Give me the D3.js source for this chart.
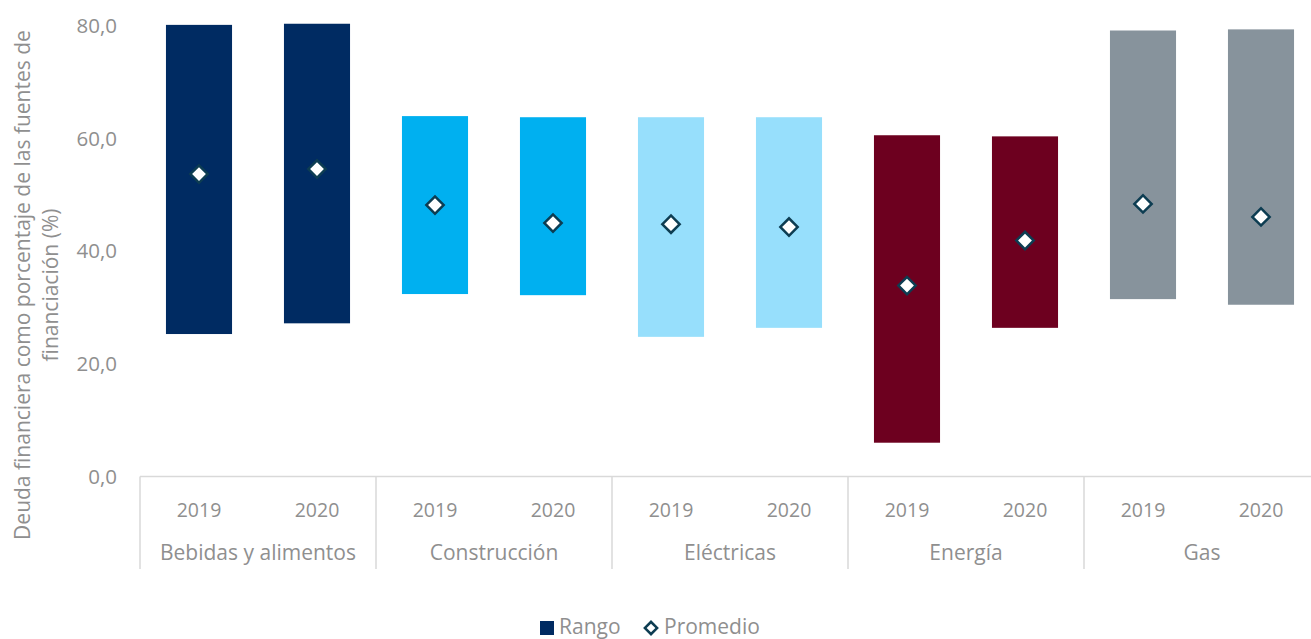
<!DOCTYPE html>
<html>
<head>
<meta charset="utf-8">
<script src="https://cdn.jsdelivr.net/npm/d3@7"></script>
<style>
  html, body { margin: 0; padding: 0; background: #fff; }
  svg { display: block; }
  text { font-family: "Open Sans", sans-serif; fill: #8f8f8f; }
</style>
</head>
<body>
<svg id="chart" width="1311" height="639"></svg>
<script>
// Sectors and years
const sectors = ["Bebidas y alimentos", "Construcción", "Eléctricas", "Energía", "Gas"];
const years = ["2019", "2020"];
// Range (min / max) and average, per sector, per year
const rangeMin = [[25.3, 27.2], [32.4, 32.2], [24.8, 26.4], [6.0, 26.4], [31.5, 30.5]];
const rangeMax = [[80.2, 80.4], [64.0, 63.8], [63.8, 63.8], [60.6, 60.4], [79.2, 79.4]];
const average  = [[53.7, 54.6], [48.2, 45.0], [44.8, 44.3], [33.9, 41.9], [48.4, 46.1]];
const sectorColors = ["#002b62", "#00b0f0", "#97dffc", "#6d001f", "#87939c"];
const yTicks = [0, 20, 40, 60, 80];
const yTitle = ["Deuda financiera como porcentaje de las fuentes de", "financiación (%)"];
const legendLabels = ["Rango", "Promedio"];

const svg = d3.select("#chart");
const plotLeft = 140, plotTop = 26, plotBottom = 476.5, groupW = 236;

const x = d3.scaleBand().domain(sectors).range([plotLeft, plotLeft + groupW * sectors.length]).padding(0);
const xi = d3.scaleBand().domain(years).range([0, x.bandwidth()]).paddingInner(0.44).paddingOuter(0.22);
const y = d3.scaleLinear().domain([0, 80]).range([plotBottom, plotTop]);

const fmt = v => d3.format(".1f")(v).replace(".", ",");

// y tick labels
svg.append("g").selectAll("text").data(yTicks).join("text")
  .attr("x", 117).attr("y", d => y(d)).attr("dy", "0.35em")
  .attr("text-anchor", "end").style("font-size", "20.5px")
  .text(fmt);

// y axis title (two lines, rotated)
svg.append("g").attr("transform", "translate(0,285) rotate(-90)")
  .selectAll("text").data(yTitle).join("text")
  .attr("x", 0).attr("y", (d, i) => 29.5 + i * 28)
  .attr("text-anchor", "middle").style("font-size", "21px").text(d => d);

// flatten records
const rows = [];
sectors.forEach((s, si) => years.forEach((yr, yi) => rows.push({
  sector: s, year: yr, lo: rangeMin[si][yi], hi: rangeMax[si][yi],
  avg: average[si][yi], color: sectorColors[si]
})));

// range bars
svg.append("g").selectAll("rect").data(rows).join("rect")
  .attr("x", d => x(d.sector) + xi(d.year))
  .attr("width", xi.bandwidth())
  .attr("y", d => y(d.hi))
  .attr("height", d => y(d.lo) - y(d.hi))
  .attr("fill", d => d.color);

// average markers
const diamond = d3.symbol().type(d3.symbolSquare).size(150);
svg.append("g").selectAll("path").data(rows).join("path")
  .attr("d", diamond)
  .attr("transform", d => `translate(${x(d.sector) + xi(d.year) + xi.bandwidth() / 2},${y(d.avg)}) rotate(45)`)
  .attr("fill", "#fff").attr("stroke", "#0d3d52").attr("stroke-width", 2.5);

// category axis: baseline and group separators
const axisG = svg.append("g");
axisG.append("line")
  .attr("x1", plotLeft).attr("x2", plotLeft + groupW * sectors.length)
  .attr("y1", plotBottom).attr("y2", plotBottom)
  .attr("stroke", "#d9d9d9").attr("stroke-width", 1.5);
axisG.selectAll("line.sep").data(sectors.concat([null])).join("line").attr("class", "sep")
  .attr("x1", (d, i) => plotLeft + i * groupW).attr("x2", (d, i) => plotLeft + i * groupW)
  .attr("y1", plotBottom).attr("y2", 569)
  .attr("stroke", "#d9d9d9").attr("stroke-width", 1.5);

// year labels
axisG.selectAll("text.yr").data(rows).join("text").attr("class", "yr")
  .attr("x", d => x(d.sector) + xi(d.year) + xi.bandwidth() / 2)
  .attr("y", 510).attr("dy", "0.35em").attr("text-anchor", "middle")
  .style("font-size", "19.5px").text(d => d.year);

// sector labels
axisG.selectAll("text.sec").data(sectors).join("text").attr("class", "sec")
  .attr("x", d => x(d) + x.bandwidth() / 2)
  .attr("y", 553).attr("dy", "0.35em").attr("text-anchor", "middle")
  .style("font-size", "21px").text(d => d);

// legend
const lg = svg.append("g").attr("transform", "translate(540,627)");
lg.append("rect").attr("x", 0).attr("y", -6).attr("width", 14).attr("height", 14).attr("fill", sectorColors[0]);
lg.append("text").attr("x", 19).attr("y", 0).attr("dy", "0.35em").style("font-size", "21px").text(legendLabels[0]);
lg.append("path").attr("d", d3.symbol().type(d3.symbolSquare).size(75))
  .attr("transform", "translate(111,1) rotate(45)")
  .attr("fill", "#fff").attr("stroke", "#0d3d52").attr("stroke-width", 2.5);
lg.append("text").attr("x", 124).attr("y", 0).attr("dy", "0.35em").style("font-size", "21px").text(legendLabels[1]);
</script>
</body>
</html>
